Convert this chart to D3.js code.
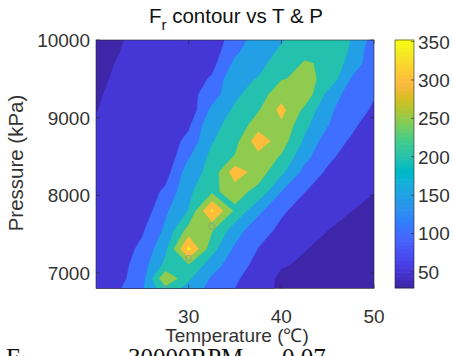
<!DOCTYPE html>
<html><head><meta charset="utf-8">
<script src="https://cdn.jsdelivr.net/npm/d3@7"></script>
<style>
html,body{margin:0;padding:0;background:#fff;}
svg{display:block;font-family:"Liberation Sans",Arial,Helvetica,sans-serif;}
</style></head><body>
<svg id="chart" width="453" height="356"></svg>
<script>
// ---------------- data ----------------
const temperatures = [20, 22.5, 25, 27.5, 30, 32.5, 35, 37.5, 40, 42.5, 45, 47.5, 50];
const pressures = [6800, 6930, 7100, 7310, 7550, 7800, 8050, 8300, 8500, 8700, 8900, 9100, 9300, 9500, 9700, 9850, 10000];
// Fr values, one row per pressure (ascending), one column per temperature
const frValues = [
  [60, 96, 144.4, 235, 180.6, 132.9, 99.5, 67, 42, 38, 34, 31, 29],
  [62, 86, 130, 296, 208, 143.4, 108.2, 70.5, 42, 40, 36, 33, 30],
  [64, 80, 127, 215, 245, 172.9, 120.6, 86.1, 53, 45, 40, 36, 33],
  [66, 75, 111.9, 188, 362, 218, 139.9, 99, 75.2, 51.3, 42, 38, 35],
  [68, 72, 94, 160, 270, 255, 174, 115, 92, 72, 50.3, 42, 38],
  [66, 68, 68, 142, 202.7, 358, 240, 162.4, 105, 86.4, 68.4, 50.4, 45],
  [64, 66, 68, 110, 190, 240, 270, 235, 150.5, 101, 85, 65, 50.5],
  [62, 65, 66, 78, 178, 215, 330, 275, 212, 135, 92.3, 70, 60],
  [60, 64, 66, 64, 145, 213.75, 253.2, 285, 245.2, 165, 112, 77.5, 68],
  [57, 62, 66, 70, 115, 196, 232, 330, 275, 191.7, 124.4, 94.8, 75],
  [55, 60, 63, 68, 92.5, 191.7, 211.5, 280, 290, 213, 151.8, 110, 76],
  [49, 60, 60, 63, 66, 162, 208.3, 244.8, 315, 238, 162, 118, 94.5],
  [47, 56.7, 64, 72, 82, 125, 190, 225, 280, 285, 185, 126.7, 103],
  [43, 55.5, 62, 68, 75, 106, 190.5, 201.8, 246.9, 259.8, 241, 147.8, 110],
  [40, 52.5, 60, 65, 70, 83.5, 161, 185, 222.5, 253.75, 244, 180, 120],
  [37, 49.5, 60, 64, 68, 74, 140, 185, 205, 238, 240, 194, 115],
  [35, 48, 58, 62, 66, 70, 125, 175, 197, 215, 225, 199, 127]
];
const contourLevels = [50, 100, 150, 200, 250, 300, 350];
const colorLimits = [29, 352];
const xTicks = [30, 40, 50];
const yTicks = [7000, 8000, 9000, 10000];
const colorbarTicks = [50, 100, 150, 200, 250, 300, 350];
const markerTemps = [27.5, 30, 32.5];
const markerPress = [6800, 7190, 7600];
const titleMain = "F", titleSub = "r", titleRest = " contour vs T & P";
const xLabel = "Temperature (\u2103)";
const yLabel = "Pressure (kPa)";
const captionParts = [["F", 6], ["30000RPM", 128], ["0.07", 282]];

// parula colormap (64)
const parulaRGB = [
[0.2422,0.1504,0.6603],[0.2504,0.1650,0.7076],[0.2578,0.1818,0.7511],[0.2647,0.1978,0.7952],
[0.2706,0.2147,0.8364],[0.2751,0.2342,0.8710],[0.2783,0.2559,0.8991],[0.2803,0.2782,0.9221],
[0.2813,0.3006,0.9414],[0.2810,0.3228,0.9579],[0.2795,0.3447,0.9717],[0.2760,0.3667,0.9829],
[0.2699,0.3892,0.9906],[0.2602,0.4123,0.9952],[0.2440,0.4358,0.9988],[0.2206,0.4603,0.9973],
[0.1963,0.4847,0.9892],[0.1834,0.5074,0.9798],[0.1786,0.5289,0.9682],[0.1764,0.5499,0.9520],
[0.1687,0.5703,0.9359],[0.1540,0.5902,0.9218],[0.1460,0.6091,0.9079],[0.1380,0.6276,0.8973],
[0.1248,0.6459,0.8883],[0.1113,0.6635,0.8763],[0.0952,0.6798,0.8598],[0.0689,0.6948,0.8394],
[0.0297,0.7082,0.8163],[0.0036,0.7203,0.7917],[0.0067,0.7312,0.7660],[0.0433,0.7411,0.7394],
[0.0964,0.7500,0.7120],[0.1408,0.7584,0.6842],[0.1717,0.7670,0.6554],[0.1938,0.7758,0.6251],
[0.2161,0.7843,0.5923],[0.2470,0.7918,0.5567],[0.2906,0.7973,0.5188],[0.3406,0.8008,0.4789],
[0.3909,0.8029,0.4354],[0.4456,0.8024,0.3909],[0.5044,0.7993,0.3480],[0.5616,0.7942,0.3045],
[0.6174,0.7876,0.2612],[0.6720,0.7793,0.2227],[0.7242,0.7698,0.1910],[0.7738,0.7598,0.1646],
[0.8203,0.7498,0.1535],[0.8634,0.7406,0.1596],[0.9035,0.7330,0.1774],[0.9393,0.7288,0.2100],
[0.9728,0.7298,0.2394],[0.9956,0.7434,0.2371],[0.9970,0.7659,0.2199],[0.9952,0.7893,0.2028],
[0.9892,0.8136,0.1885],[0.9786,0.8386,0.1766],[0.9676,0.8639,0.1643],[0.9610,0.8890,0.1537],
[0.9597,0.9135,0.1423],[0.9628,0.9373,0.1265],[0.9691,0.9606,0.1064],[0.9769,0.9839,0.0805]];
const parula = parulaRGB.map(c => d3.rgb(c[0]*255, c[1]*255, c[2]*255).formatHex());
function cmapIndex(v) {
  const f = (v - colorLimits[0]) / (colorLimits[1] - colorLimits[0]);
  return Math.max(0, Math.min(63, Math.floor(f * 64)));
}

// ---------------- layout ----------------
const svg = d3.select("#chart");
const plot = {left: 96, right: 374, top: 40, bottom: 288.5};
const cbar = {left: 395, right: 414, top: 40, bottom: 288};
const axisColor = "#262626", textColor = "#333333";

const x = d3.scaleLinear().domain([20, 50]).range([plot.left, plot.right]);
const y = d3.scaleLinear().domain([6800, 10000]).range([plot.bottom, plot.top]);

// grid index -> data coordinates (d3.contours uses cell centres at i + 0.5)
const colToT = d3.scaleLinear().domain(temperatures.map((_, i) => i + 0.5)).range(temperatures);
const rowToP = d3.scaleLinear().domain(pressures.map((_, i) => i + 0.5)).range(pressures);

svg.append("clipPath").attr("id", "plotclip").append("rect")
  .attr("x", plot.left).attr("y", plot.top)
  .attr("width", plot.right - plot.left).attr("height", plot.bottom - plot.top);

const g = svg.append("g").attr("clip-path", "url(#plotclip)");
g.append("rect").attr("x", plot.left).attr("y", plot.top)
  .attr("width", plot.right - plot.left).attr("height", plot.bottom - plot.top)
  .attr("fill", parula[0]);

const contours = d3.contours().size([temperatures.length, pressures.length])
  .thresholds(contourLevels)(frValues.flat());
const proj = d3.geoTransform({
  point: function(px, py) { this.stream.point(x(colToT(px)), y(rowToP(py))); }
});
const path = d3.geoPath(proj);
g.selectAll("path.band").data(contours).join("path")
  .attr("class", "band")
  .attr("d", path)
  .attr("fill", d => parula[cmapIndex(d.value)])
  .attr("stroke", d => parula[cmapIndex(d.value)])
  .attr("stroke-width", 0.3);

// markers
g.selectAll("circle.mk").data(markerTemps).join("circle")
  .attr("class", "mk")
  .attr("cx", (d, i) => x(d)).attr("cy", (d, i) => y(markerPress[i]))
  .attr("r", 3).attr("fill", "none").attr("stroke", "#8c9c88").attr("stroke-width", 1).attr("opacity", 0.8);

// frame
svg.append("rect").attr("x", plot.left).attr("y", plot.top)
  .attr("width", plot.right - plot.left).attr("height", plot.bottom - plot.top)
  .attr("fill", "none").attr("stroke", axisColor).attr("stroke-width", 0.6);

// ticks
const tl = 4;
xTicks.forEach(t => {
  svg.append("line").attr("x1", x(t)).attr("x2", x(t)).attr("y1", plot.bottom).attr("y2", plot.bottom - tl)
    .attr("stroke", axisColor).attr("stroke-width", 0.6);
  svg.append("line").attr("x1", x(t)).attr("x2", x(t)).attr("y1", plot.top).attr("y2", plot.top + tl)
    .attr("stroke", axisColor).attr("stroke-width", 0.6);
});
yTicks.forEach(t => {
  svg.append("line").attr("x1", plot.left).attr("x2", plot.left + tl).attr("y1", y(t)).attr("y2", y(t))
    .attr("stroke", axisColor).attr("stroke-width", 0.6);
  svg.append("line").attr("x1", plot.right).attr("x2", plot.right - tl).attr("y1", y(t)).attr("y2", y(t))
    .attr("stroke", axisColor).attr("stroke-width", 0.6);
});

const fs = 19;
svg.selectAll("text.xt").data(xTicks).join("text").attr("class", "xt")
  .attr("x", d => x(d)).attr("y", 323).attr("text-anchor", "middle")
  .attr("font-size", fs).attr("fill", textColor).text(d => d);
svg.selectAll("text.yt").data(yTicks).join("text").attr("class", "yt")
  .attr("x", 90).attr("y", d => y(d) + 7).attr("text-anchor", "end")
  .attr("font-size", fs).attr("fill", textColor).text(d => d);

// axis labels
svg.append("text").attr("x", 237).attr("y", 342).attr("text-anchor", "middle")
  .attr("font-size", 19).attr("fill", textColor).text(xLabel);
svg.append("text").attr("transform", "translate(22.5,163) rotate(-90)").attr("text-anchor", "middle")
  .attr("font-size", 20.5).attr("fill", textColor).text(yLabel);

// title
const title = svg.append("text").attr("x", 236).attr("y", 23).attr("text-anchor", "middle")
  .attr("font-size", 20.5).attr("fill", "#111");
title.append("tspan").text(titleMain);
title.append("tspan").attr("font-size", 15).attr("dy", 7).text(titleSub);
title.append("tspan").attr("dy", -7).text(titleRest);

// colorbar
const cy = d3.scaleLinear().domain(colorLimits).range([cbar.bottom, cbar.top]);
const step = (colorLimits[1] - colorLimits[0]) / 64;
svg.selectAll("rect.cb").data(parula).join("rect").attr("class", "cb")
  .attr("x", cbar.left).attr("width", cbar.right - cbar.left)
  .attr("y", (d, i) => cy(colorLimits[0] + (i + 1) * step) - 0.3)
  .attr("height", (cy(colorLimits[0]) - cy(colorLimits[0] + step)) + 0.6)
  .attr("fill", d => d);
svg.append("rect").attr("x", cbar.left).attr("y", cbar.top)
  .attr("width", cbar.right - cbar.left).attr("height", cbar.bottom - cbar.top)
  .attr("fill", "none").attr("stroke", axisColor).attr("stroke-width", 0.6);
colorbarTicks.forEach(t => {
  svg.append("line").attr("x1", cbar.right).attr("x2", cbar.right - 3).attr("y1", cy(t)).attr("y2", cy(t))
    .attr("stroke", axisColor).attr("stroke-width", 0.6);
});
svg.selectAll("text.ct").data(colorbarTicks).join("text").attr("class", "ct")
  .attr("x", 418).attr("y", d => cy(d) + 7).attr("font-size", fs).attr("fill", textColor).text(d => d);

// caption line below the figure, cut by the bottom edge as in the reference
const cap = svg.append("g").attr("font-family", "'Liberation Serif','Times New Roman',serif")
  .attr("font-size", 25).attr("fill", "#111");
captionParts.forEach(p => cap.append("text").attr("x", p[1]).attr("y", 366).text(p[0]));
</script>
</body></html>
